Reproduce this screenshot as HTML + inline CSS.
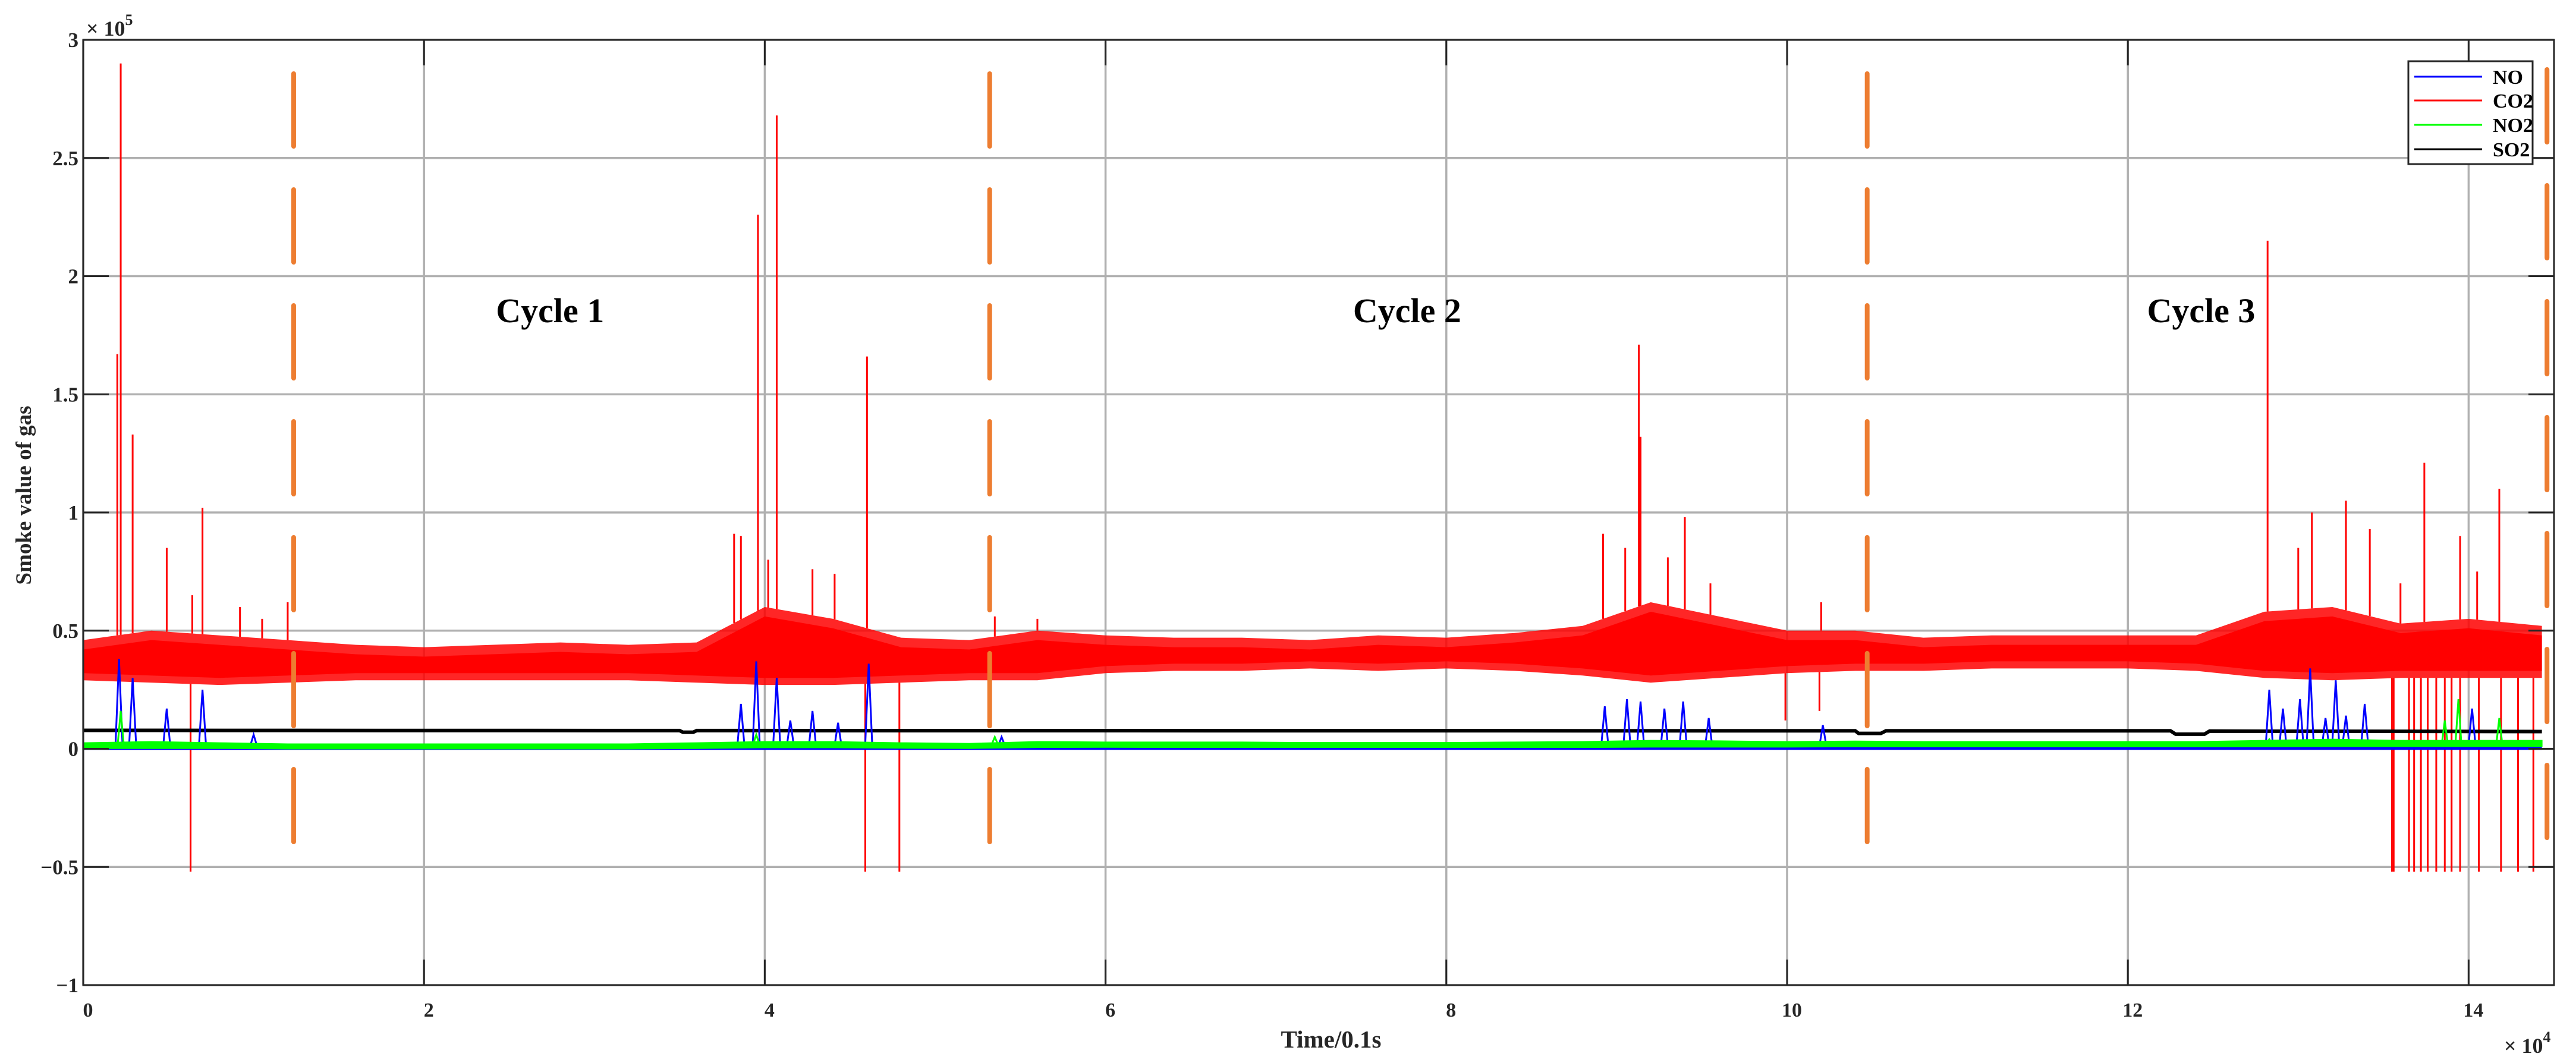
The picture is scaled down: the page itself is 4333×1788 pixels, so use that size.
<!DOCTYPE html>
<html><head><meta charset="utf-8"><style>
html,body{margin:0;padding:0;background:#fff;width:4333px;height:1788px;overflow:hidden}
svg text{font-family:"Liberation Serif",serif;font-weight:bold;fill:#262626}
</style></head><body>
<svg id="chart" width="4333" height="1788" viewBox="0 0 4333 1788" xmlns="http://www.w3.org/2000/svg">
<g id="grid"></g>
<g id="series"></g>
<g id="annot"></g>
<g id="axes"></g>
</svg>
<script>
// ---- data ----
const xTicks = [0,2,4,6,8,10,12,14];
const yTicks = [-1,-0.5,0,0.5,1,1.5,2,2.5,3];
const yTickLabels = ["\u22121","\u22120.5","0","0.5","1","1.5","2","2.5","3"];
const envX = [0,0.4,0.8,1.2,1.6,2.0,2.4,2.8,3.2,3.6,4.0,4.4,4.8,5.2,5.6,6.0,6.4,6.8,7.2,7.6,8.0,8.4,8.8,9.2,9.6,10.0,10.4,10.8,11.2,11.6,12.0,12.4,12.8,13.2,13.6,14.0,14.43];
const co2Hi = [0.46,0.5,0.48,0.46,0.44,0.43,0.44,0.45,0.44,0.45,0.6,0.55,0.47,0.46,0.5,0.48,0.47,0.47,0.46,0.48,0.47,0.49,0.52,0.62,0.56,0.5,0.5,0.47,0.48,0.48,0.48,0.48,0.58,0.6,0.53,0.55,0.52];
const co2Lo = [0.29,0.28,0.27,0.28,0.29,0.29,0.29,0.29,0.29,0.28,0.27,0.27,0.28,0.29,0.29,0.32,0.33,0.33,0.34,0.33,0.34,0.33,0.31,0.28,0.3,0.32,0.33,0.33,0.34,0.34,0.34,0.33,0.3,0.29,0.3,0.3,0.3];
const co2UpX = [0.2,0.22,0.29,0.49,0.64,0.7,0.92,1.05,1.2,3.82,3.86,3.96,4.02,4.07,4.28,4.41,4.6,5.35,5.6,8.92,9.05,9.13,9.14,9.3,9.4,9.55,10.2,12.82,13.0,13.08,13.28,13.42,13.6,13.74,13.95,14.05,14.18];
const co2UpV = [1.67,2.9,1.33,0.85,0.65,1.02,0.6,0.55,0.62,0.91,0.9,2.26,0.8,2.68,0.76,0.74,1.66,0.56,0.55,0.91,0.85,1.71,1.32,0.81,0.98,0.7,0.62,2.15,0.85,1.0,1.05,0.93,0.7,1.21,0.9,0.75,1.1];
const co2DownX = [0.63,4.59,4.79,9.99,10.19,13.55,13.56,13.65,13.68,13.72,13.76,13.81,13.86,13.9,13.95,14.06,14.19,14.29,14.38];
const co2DownV = [-0.52,-0.52,-0.52,0.12,0.16,-0.52,-0.52,-0.52,-0.52,-0.52,-0.52,-0.52,-0.52,-0.52,-0.52,-0.52,-0.52,-0.52,-0.52];
const so2X = [0,3.5,3.52,3.58,3.6,10.4,10.42,10.55,10.58,12.25,12.28,12.45,12.48,14.43];
const so2V = [0.078,0.077,0.07,0.07,0.077,0.076,0.065,0.065,0.076,0.076,0.062,0.062,0.075,0.073];
const no2Hi = [0.025,0.03,0.025,0.02,0.02,0.02,0.02,0.02,0.02,0.025,0.03,0.03,0.025,0.022,0.03,0.028,0.028,0.028,0.026,0.026,0.026,0.028,0.03,0.035,0.033,0.03,0.032,0.03,0.03,0.03,0.03,0.03,0.035,0.04,0.035,0.035,0.035];
const no2Lo = [0.002,0.002,0.002,0.0,0.0,0.0,0.0,0.0,0.0,0.002,0.005,0.005,0.003,0.002,0.006,0.007,0.006,0.006,0.006,0.006,0.006,0.006,0.006,0.008,0.008,0.008,0.009,0.009,0.009,0.009,0.009,0.009,0.009,0.01,0.01,0.01,0.01];
const noX = [0.21,0.29,0.49,0.7,1.0,3.86,3.95,4.07,4.15,4.28,4.43,4.61,5.39,8.93,9.06,9.14,9.28,9.39,9.54,10.21,12.83,12.91,13.01,13.07,13.16,13.22,13.28,13.39,14.02];
const noV = [0.38,0.3,0.17,0.25,0.06,0.19,0.37,0.3,0.12,0.16,0.11,0.36,0.05,0.18,0.21,0.2,0.17,0.2,0.13,0.1,0.25,0.17,0.21,0.34,0.13,0.29,0.14,0.19,0.17];
const no2SpX = [0.22,3.95,5.35,12.83,13.86,13.94,14.18];
const no2SpV = [0.16,0.06,0.05,0.04,0.12,0.21,0.13];
const dividerX = [1.235,5.32,10.47,14.46];
const dividerStart = [124,124,124,117];
const cycleLabels = ["Cycle 1","Cycle 2","Cycle 3"];
const cycleX = [2.74,7.77,12.43];
const legendNames = ["NO","CO2","NO2","SO2"];
const legendColors = ["#0000ff","#ff0000","#00ff00","#000000"];

// ---- scales ----
const L=140,R=4296,T=67,B=1657;
const X=v=>L+v*286.6;
const Y=v=>1259.5-v*397.5;
const NS="http://www.w3.org/2000/svg";
function mk(parent,tag,attrs){const e=document.createElementNS(NS,tag);for(const k in attrs)e.setAttribute(k,attrs[k]);parent.appendChild(e);return e;}
const grid=document.getElementById('grid'),series=document.getElementById('series'),annot=document.getElementById('annot'),axes=document.getElementById('axes'),svg=document.getElementById('chart');

// grid
xTicks.forEach(t=>{const e=mk(grid,'line',{x1:X(t),x2:X(t),y1:T,y2:B,stroke:'#b0b0b0','stroke-width':3.5});

});
yTicks.forEach(t=>{const e=mk(grid,'line',{x1:L,x2:R,y1:Y(t),y2:Y(t),stroke:'#b0b0b0','stroke-width':3.5});

});

// CO2 outer & core band
function bandPts(lo,hi,shLo,shHi){let p=[];envX.forEach((x,i)=>p.push(X(x)+','+Y(hi[i]+shHi)));for(let i=envX.length-1;i>=0;i--)p.push(X(envX[i])+','+Y(lo[i]+shLo));return p.join(' ');}
let e;
e=mk(series,'polygon',{points:bandPts(co2Lo,co2Hi,0,0),fill:'#ff0000','fill-opacity':0.85});


e=mk(series,'polygon',{points:bandPts(co2Lo,co2Hi,0.03,-0.04),fill:'#ff0000'});


function bandAt(x,arr){for(let i=1;i<envX.length;i++){if(x<=envX[i]){const f=(x-envX[i-1])/(envX[i]-envX[i-1]);return arr[i-1]+f*(arr[i]-arr[i-1]);}}return arr[arr.length-1];}
co2UpX.forEach((x,i)=>{const e=mk(series,'line',{x1:X(x),x2:X(x),y1:Y(bandAt(x,co2Hi)),y2:Y(co2UpV[i]),stroke:'#ff0000','stroke-width':3});

});
co2DownX.forEach((x,i)=>{const e=mk(series,'line',{x1:X(x),x2:X(x),y1:Y(bandAt(x,co2Lo)),y2:Y(co2DownV[i]),stroke:'#ff0000','stroke-width':3});

});

// SO2
e=mk(series,'polyline',{points:so2X.map((x,i)=>X(x)+','+Y(so2V[i])).join(' '),fill:'none',stroke:'#000','stroke-width':6});



// NO baseline
e=mk(series,'line',{x1:X(0),x2:X(14.43),y1:Y(0.002),y2:Y(0.002),stroke:'#0000ff','stroke-width':5});


noX.forEach((x,i)=>{const e=mk(series,'polyline',{points:`${X(x)-6},${Y(0.01)} ${X(x)},${Y(noV[i])} ${X(x)+6},${Y(0.01)}`,fill:'none',stroke:'#0000ff','stroke-width':3});

});

// NO2 band
e=mk(series,'polygon',{points:bandPts(no2Lo,no2Hi,0,0),fill:'#00ff00',stroke:'#00ff00','stroke-width':2});


no2SpX.forEach((x,i)=>{const e=mk(series,'polyline',{points:`${X(x)-5},${Y(0.02)} ${X(x)},${Y(no2SpV[i])} ${X(x)+5},${Y(0.02)}`,fill:'none',stroke:'#00ff00','stroke-width':3});

});

// dividers
dividerX.forEach((x,i)=>{const e=mk(annot,'line',{x1:X(x),x2:X(x),y1:dividerStart[i],y2:1424,stroke:'#ed7d31','stroke-width':8,'stroke-dasharray':'122 73','stroke-linecap':'round'});

});
cycleLabels.forEach((s,i)=>{const e=mk(annot,'text',{x:X(cycleX[i]),y:542,'text-anchor':'middle','font-size':58,style:'fill:#000'});e.textContent=s;

});

// axes box & ticks
e=mk(axes,'rect',{x:L,y:T,width:R-L,height:B-T,fill:'none',stroke:'#262626','stroke-width':3});


xTicks.forEach(t=>{mk(axes,'line',{x1:X(t),x2:X(t),y1:B,y2:B-43,stroke:'#262626','stroke-width':3});mk(axes,'line',{x1:X(t),x2:X(t),y1:T,y2:T+43,stroke:'#262626','stroke-width':3});
const e=mk(axes,'text',{x:X(t)+8,y:1710,'text-anchor':'middle','font-size':34});e.textContent=t;

});
yTicks.forEach((t,i)=>{mk(axes,'line',{x1:L,x2:L+43,y1:Y(t),y2:Y(t),stroke:'#262626','stroke-width':3});mk(axes,'line',{x1:R,x2:R-43,y1:Y(t),y2:Y(t),stroke:'#262626','stroke-width':3});
const e=mk(axes,'text',{x:132,y:Y(t)+12,'text-anchor':'end','font-size':35});e.textContent=yTickLabels[i];

});
e=mk(axes,'text',{x:145,y:60,'font-size':36});e.innerHTML='\u00d7 10<tspan dy="-18" font-size="26">5</tspan>';


e=mk(axes,'text',{x:4212,y:1771,'font-size':36});e.innerHTML='\u00d7 10<tspan dy="-18" font-size="26">4</tspan>';


e=mk(axes,'text',{x:2239,y:1762,'text-anchor':'middle','font-size':41});e.textContent='Time/0.1s';


e=mk(axes,'text',{x:0,y:0,'text-anchor':'middle','font-size':37,transform:'translate(52,833) rotate(-90)'});e.textContent='Smoke value of gas';



// legend
const lg=mk(axes,'g',{});


mk(lg,'rect',{x:4051,y:103,width:209,height:173,fill:'#fff',stroke:'#262626','stroke-width':3});
const lgY=[129,169,210,251];
legendNames.forEach((n,i)=>{const g=mk(lg,'g',{});


mk(g,'line',{x1:4061,x2:4175,y1:lgY[i],y2:lgY[i],stroke:legendColors[i],'stroke-width':3});
const t=mk(g,'text',{x:4193,y:lgY[i]+12,'font-size':34,style:'fill:#000'});t.textContent=n;});
</script>
</body></html>
